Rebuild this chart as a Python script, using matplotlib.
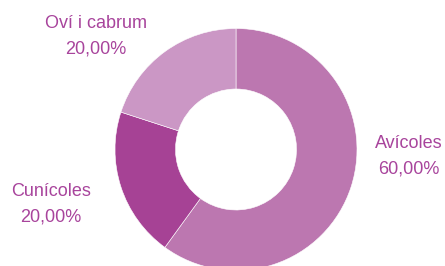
import matplotlib
matplotlib.use('Agg')
import matplotlib.pyplot as plt

# Data
labels = ['Avícoles', 'Cunícoles', 'Oví i cabrum']
shares = [60.0, 20.0, 20.0]
colors = ['#bc77b0', '#a64295', '#cb97c5']

text_color = '#a8449c'
plt.rcParams['font.family'] = ['Liberation Sans', 'DejaVu Sans']

W, H = 445, 266
fig = plt.figure(figsize=(W / 100, H / 100), dpi=100)
ax = fig.add_axes([0, 0, 1, 1])

cx, cy, r = 236, H - 149.5, 121
ax.pie(shares, colors=colors, startangle=90, counterclock=False,
       center=(cx, cy), radius=r, frame=True,
       wedgeprops=dict(width=r * 0.5, edgecolor='white', linewidth=0.4))
ax.set_xlim(0, W)
ax.set_ylim(0, H)
ax.set_aspect('equal')
ax.axis('off')

# label positions (pixels from top-left)
label_pos = {'Avícoles': (409, 144), 'Cunícoles': (51, 192), 'Oví i cabrum': (96, 24)}
for name, val in zip(labels, shares):
    x, y = label_pos[name]
    pct = f'{val:.2f}'.replace('.', ',') + '%'
    ax.text(x, H - y, name, ha='center', va='center', fontsize=13, color=text_color)
    ax.text(x, H - y - 25, pct, ha='center', va='center', fontsize=13, color=text_color)

fig.savefig('out.png', dpi=100)
